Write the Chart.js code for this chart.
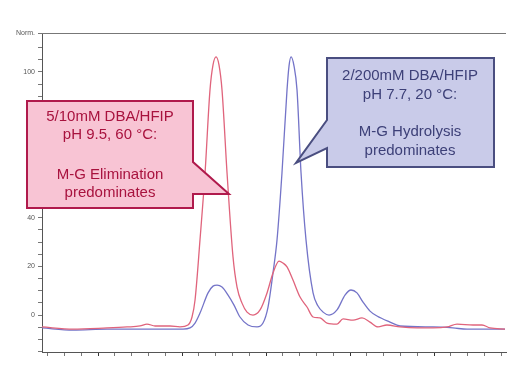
<!DOCTYPE html>
<html lang="en">
<head>
    <meta charset="UTF-8">
    <title>Chromatogram</title>
    <script src="https://cdn.jsdelivr.net/npm/chart.js"></script>
    <style>
        body { margin: 0; background: #fff; }
        #wrap { width: 523px; height: 372px; position: relative; }
    </style>
</head>
<body>
    <div id="wrap"><canvas id="canvasCromatograma"></canvas></div>

<script>
    // retention time (min) and normalised signal
    const redTime = [0.333, 0.702, 1.107, 1.345, 1.5, 1.583, 1.679, 1.857, 1.976, 2.071, 2.119, 2.155, 2.214, 2.274, 2.333, 2.369, 2.405, 2.44, 2.476, 2.536, 2.607, 2.655, 2.714, 2.774, 2.845, 2.929, 3.012, 3.083, 3.155, 3.202, 3.25, 3.321, 3.405, 3.488, 3.56, 3.643, 3.726, 3.845, 3.917, 4.036, 4.143, 4.238, 4.333, 4.44, 4.595, 4.798, 4.988, 5.155, 5.274, 5.464, 5.571, 5.667, 5.845];
    const redSignal = [-4.9, -5.8, -5.3, -4.9, -4.5, -3.7, -4.5, -4.5, -4.9, -4.1, -0.8, 6.2, 30.9, 58.4, 92.6, 102.9, 106.2, 102.9, 92.6, 58.4, 23.9, 11.5, 4.9, 1.2, 0, 2.1, 9.1, 17.3, 22.2, 21.4, 19.8, 14.4, 7.4, 3.3, -0.8, -1.2, -3.3, -3.7, -1.6, -2.1, -1.2, -2.9, -4.9, -4.1, -4.9, -5.3, -5.3, -4.9, -3.7, -4.1, -4.1, -5.3, -5.8];

    const blueTime = [0.333, 0.702, 1.107, 1.619, 2.012, 2.095, 2.155, 2.214, 2.31, 2.369, 2.417, 2.476, 2.548, 2.619, 2.69, 2.786, 2.893, 2.964, 3.024, 3.083, 3.131, 3.19, 3.25, 3.274, 3.298, 3.333, 3.369, 3.417, 3.476, 3.56, 3.619, 3.679, 3.75, 3.845, 3.94, 4.012, 4.083, 4.155, 4.238, 4.321, 4.476, 4.595, 4.988, 5.226, 5.393, 5.631, 5.845];
    const blueSignal = [-5.3, -6.2, -5.8, -5.8, -5.8, -5.3, -3.3, 0.8, 9.1, 11.9, 12.3, 11.5, 8.2, 4.1, -0.8, -4.1, -4.9, -3.3, 3.3, 17.3, 30.9, 58.4, 92.6, 102.5, 106.2, 102.5, 92.6, 58.4, 30.9, 9.1, 3.7, 1.2, 0, 2.1, 8.2, 10.3, 9.1, 5.3, 1.6, -0.4, -2.9, -4.5, -4.9, -5.3, -5.8, -5.8, -5.8];

    const xMin = 0.333, xMax = 5.857, xStep = 0.2;
    const yMin = -15.2, yMax = 116, yStep = 5, yLabelStep = 20;

    const redText = ['5/10mM DBA/HFIP', 'pH 9.5, 60 °C:', '', 'M-G Elimination', 'predominates'];
    const blueText = ['2/200mM DBA/HFIP', 'pH 7.7, 20 °C:', '', 'M-G Hydrolysis', 'predominates'];

    const pontos = (t, s) => t.map((v, i) => ({ x: v, y: s[i] }));

    // caixas de texto em forma de balão
    function balao(ctx, caminho, fundo, borda, corTexto, linhas, cx, ys) {
        ctx.save();
        ctx.beginPath();
        ctx.moveTo(caminho[0][0], caminho[0][1]);
        for (let i = 1; i < caminho.length; i++) ctx.lineTo(caminho[i][0], caminho[i][1]);
        ctx.closePath();
        ctx.fillStyle = fundo;
        ctx.fill();
        ctx.lineWidth = 2;
        ctx.lineJoin = 'miter';
        ctx.strokeStyle = borda;
        ctx.stroke();
        ctx.fillStyle = corTexto;
        ctx.font = '15px "Liberation Sans", Arial, sans-serif';
        ctx.textAlign = 'center';
        ctx.textBaseline = 'middle';
        linhas.forEach((l, i) => { if (l) ctx.fillText(l, cx, ys[i]); });
        ctx.restore();
    }

    const pluginBaloes = {
        id: 'baloes',
        afterDatasetsDraw(chart) {
            const ctx = chart.ctx;
            const a = chart.chartArea;
            // linha superior do quadro
            ctx.save();
            ctx.strokeStyle = '#777';
            ctx.lineWidth = 1;
            ctx.beginPath();
            ctx.moveTo(a.left, a.top + 0.5);
            ctx.lineTo(a.right, a.top + 0.5);
            ctx.stroke();
            ctx.restore();

            balao(ctx,
                [[27, 101], [193, 101], [193, 162], [229, 194], [193, 194], [193, 208], [27, 208]],
                '#f8c4d4', '#b01a4c', '#a8123e', redText, 110, [117, 135, 0, 175, 193]);
            balao(ctx,
                [[327, 58], [494, 58], [494, 167], [327, 167], [327, 148], [296, 163], [327, 120]],
                '#c9cbe9', '#4a4e80', '#3d4078', blueText, 410, [76, 95, 0, 132, 151]);
        }
    };

    const config = {
        type: 'line',
        data: {
            datasets: [
                {
                    label: '5/10mM DBA/HFIP',
                    data: pontos(redTime, redSignal),
                    borderColor: '#e0647c',
                    borderWidth: 1.3,
                    pointRadius: 0,
                    cubicInterpolationMode: 'monotone'
                },
                {
                    label: '2/200mM DBA/HFIP',
                    data: pontos(blueTime, blueSignal),
                    borderColor: '#7474c8',
                    borderWidth: 1.3,
                    pointRadius: 0,
                    cubicInterpolationMode: 'monotone'
                }
            ]
        },
        plugins: [pluginBaloes],
        options: {
            responsive: true,
            maintainAspectRatio: false,
            animation: false,
            layout: { padding: { top: 33, right: 17, bottom: 0, left: 0 } },
            plugins: {
                legend: { display: false },
                tooltip: { enabled: false }
            },
            scales: {
                x: {
                    type: 'linear',
                    min: xMin,
                    max: xMax,
                    afterBuildTicks: (scale) => {
                        const t = [];
                        for (let k = Math.ceil(xMin / xStep); k * xStep <= xMax; k++) t.push({ value: +(k * xStep).toFixed(3) });
                        scale.ticks = t;
                    },
                    afterFit: (scale) => { scale.height = 20; },
                    ticks: { callback: () => '' },
                    grid: {
                        drawOnChartArea: false,
                        tickLength: 4,
                        tickColor: (c) => (c.tick && Math.abs(c.tick.value % 1) < 0.01) ? '#333' : '#777'
                    },
                    border: { color: '#555', width: 1 }
                },
                y: {
                    type: 'linear',
                    min: yMin,
                    max: yMax,
                    afterBuildTicks: (scale) => {
                        const t = [];
                        for (let v = Math.ceil(yMin / yStep) * yStep; v < yMax - 1; v += yStep) t.push({ value: v });
                        t.push({ value: yMax });
                        scale.ticks = t;
                    },
                    afterFit: (scale) => { scale.width = 42; },
                    ticks: {
                        color: '#555',
                        padding: 3,
                        font: { size: 7, family: 'Arial' },
                        callback: (v) => v === yMax ? 'Norm.' : (v % yLabelStep === 0 ? v : '')
                    },
                    grid: {
                        drawOnChartArea: false,
                        tickLength: 4,
                        tickColor: '#777'
                    },
                    border: { color: '#555', width: 1 }
                }
            }
        }
    };

    const GraficoCromatograma = new Chart(
        document.getElementById('canvasCromatograma'),
        config
    );
</script>
</body>
</html>
